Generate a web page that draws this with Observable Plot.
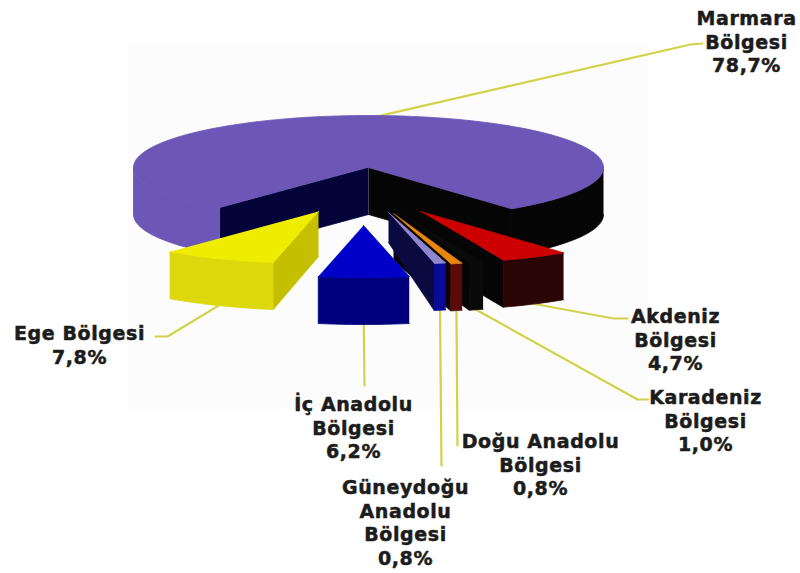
<!DOCTYPE html>
<html><head><meta charset="utf-8">
<style>html,body{margin:0;padding:0;background:#fff}</style>
<script src="https://cdn.jsdelivr.net/npm/d3@7"></script>
<script src="https://cdn.jsdelivr.net/npm/@observablehq/plot@0.6"></script>
</head><body><div id="chart"></div>
<script>
// --- data
const regions = ["Marmara","Akdeniz","Karadeniz","Doğu Anadolu","Güneydoğu Anadolu","İç Anadolu","Ege"];
const shares  = [78.7, 4.7, 1.0, 0.8, 0.8, 6.2, 7.8];
const labelLines = [
  ["Marmara","Bölgesi"],["Akdeniz","Bölgesi"],["Karadeniz","Bölgesi"],
  ["Doğu Anadolu","Bölgesi"],["Güneydoğu","Anadolu","Bölgesi"],["İç Anadolu","Bölgesi"],["Ege Bölgesi"]
];
// --- layout of the projected pie
const rx = 235, ry = 52, depth = 47, firstAngle = 37.5;
const apexX = [368,420,400,393,388,363,318];
const apexY = [167,211,213,213,212,225,211];
const apexDepth = [47,47,47,47,30,47,45];
const topColors    = ["#6c56b6","#cc0000","#0a0a0a","#e8860f","#8f86cf","#0000c8","#f0ec00"];
const outerColors  = ["#6c56b6","#2a0505","#0a0a0a","#5a0a0a","#0a0a9a","#00007f","#dcd80c"];
const radialColors = ["#04043a","#050505","#050505","#080404","#0a0a40","#00007f","#c4bf00"];
const labelX = [746,675,705,540,405,353,79];
const labelY = [8,306,387,431,477,394,323];
const leaderEnds = [
  [[690,44],[702,43]], [[613,318],[627,318]], [[637,399],[648,399]],
  [[457,445]], [[441,465]], [[364,385]], [[167,336],[155,336]]
];
// --- geometry derived from the values
const rad = d => d * Math.PI / 180;
const rim = (i, deg, drop = 0) => ({
  x: apexX[i] + rx * Math.sin(rad(deg)),
  y: apexY[i] + ry * Math.cos(rad(deg)) + drop
});
const arcPts = (i, a, b, drop = 0) => {
  const n = Math.max(2, Math.ceil(Math.abs(b - a) / 2));
  return d3.range(n + 1).map(k => rim(i, a + (b - a) * k / n, drop));
};
let cursor = firstAngle;
const spans = regions.map((r, i) => {
  if (i === 0) return null;
  const s = {from: cursor, to: cursor - shares[i] * 3.6};
  cursor = s.to; return s;
});
spans[0] = {from: firstAngle, to: firstAngle + shares[0] * 3.6};
const polys = [];
const add = (id, color, pts) => pts.forEach(p => polys.push({...p, id, color}));
const wallBand = (id, i, a, b, color) =>
  add(id, color, [...arcPts(i, a, b), ...arcPts(i, b, a, depth)]);
const radialWall = (id, i, deg, color) => {
  const o = rim(i, deg), ap = {x: apexX[i], y: apexY[i]};
  add(id, color, [ap, o, {x: o.x, y: o.y + depth}, {x: ap.x, y: ap.y + apexDepth[i]}]);
};
const topFace = (id, i, a, b, color) =>
  add(id, color, [{x: apexX[i], y: apexY[i]}, ...arcPts(i, a, b)]);
// main pie: the big remaining wedge, walls seen through the gap
radialWall("m-l", 0, spans[0].to, radialColors[0]);
radialWall("m-r", 0, spans[0].from, "#050505");
wallBand("m-ol", 0, spans[0].to, 270, outerColors[0]);
wallBand("m-or", 0, 90, spans[0].from, "#050505");
topFace("m-t", 0, spans[0].from, spans[0].to, topColors[0]);
// exploded slices, back to front
[1,2,3,4,5,6].forEach(i => {
  const {from, to} = spans[i];
  if (i === 6) radialWall("r" + i, i, from, radialColors[i]);
  else if (i !== 5) radialWall("r" + i, i, to, radialColors[i]);
  wallBand("o" + i, i, from, to, outerColors[i]);
  topFace("t" + i, i, from, to, topColors[i]);
});
// leaders start on the slice they point from
const mid = i => (spans[i].from + spans[i].to) / 2;
const leaders = regions.flatMap((r, i) => {
  const s = i === 0 ? rim(0, 177) : rim(i, mid(i), depth);
  return [s, ...leaderEnds[i].map(([x, y]) => ({x, y}))].map(p => ({...p, r}));
});
const labels = regions.map((r, i) => ({
  x: labelX[i], y: labelY[i],
  text: [...labelLines[i], shares[i].toFixed(1).replace(".", ",") + "%"].join("\n")
}));
const plot = Plot.plot({
  width: 800, height: 573, margin: 0,
  x: {domain: [0, 800], range: [0, 800], axis: null},
  y: {domain: [0, 573], range: [0, 573], axis: null},
  color: {type: "identity"},
  style: {background: "#fff", letterSpacing: "0.6px"},
  marks: [
    Plot.rect([{x1: 128, x2: 648, y1: 45, y2: 409}], {x1: "x1", x2: "x2", y1: "y1", y2: "y2", fill: "#fcfcfc"}),
    Plot.line(leaders, {x: "x", y: "y", z: "r", stroke: "#d2d24a", strokeWidth: 2.2}),
    Plot.line(polys, {x: "x", y: "y", z: "id", fill: "color", stroke: "color", strokeWidth: 0.8}),
    Plot.text(labels, {x: "x", y: "y", text: "text", textAnchor: "middle", lineAnchor: "top",
      lineHeight: 1.24, fontFamily: "DejaVu Sans", fontWeight: "bold", fontSize: 19,
      fill: "#1c1c1c", stroke: "#1c1c1c", strokeWidth: 0.5})
  ]
});
document.getElementById("chart").append(plot);
</script></body></html>
